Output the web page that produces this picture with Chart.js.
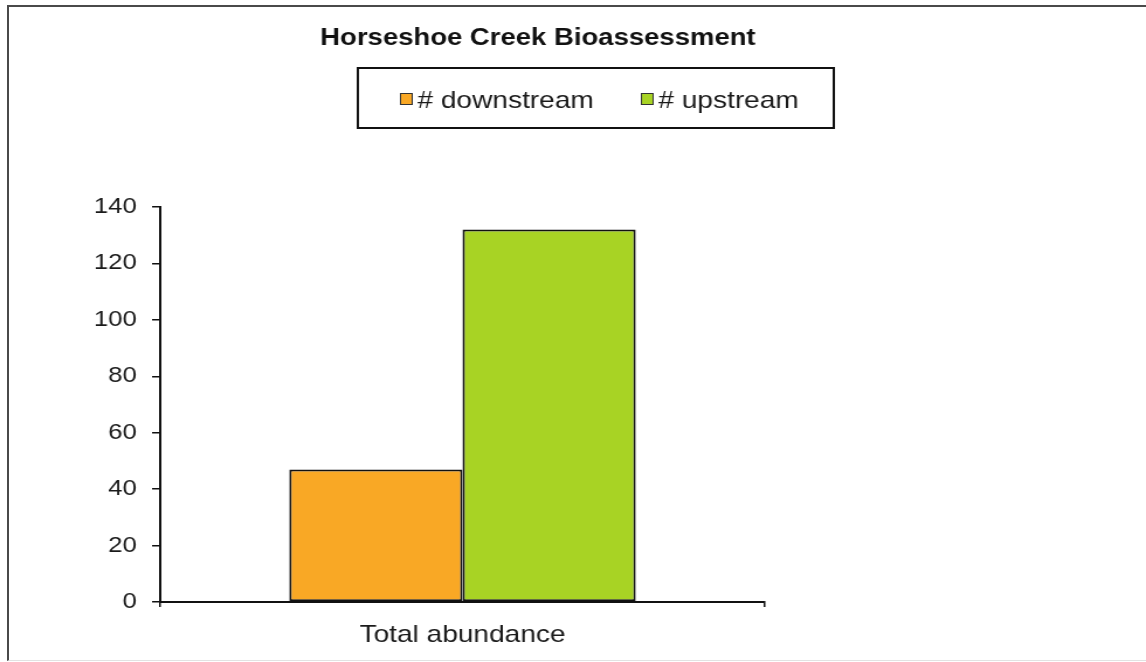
<!DOCTYPE html>
<html>
<head>
<meta charset="utf-8">
<title>Horseshoe Creek Bioassessment</title>
<script src="https://cdn.jsdelivr.net/npm/chart.js@4.4.1/dist/chart.umd.min.js"></script>
<style>
  html, body { margin: 0; padding: 0; background: #fff; }
  #page { position: relative; width: 1146px; height: 662px; overflow: hidden; background: #fff; }
  /* the original picture is stretched sideways, so the chart is drawn narrower and scaled */
  #stretch { position: absolute; left: 0; top: 0; width: 980px; height: 662px; transform: scaleX(1.1694); transform-origin: 0 0; }
  #frame { position: absolute; left: 7px; top: 5px; width: 1160px; height: 653px; border-left: 2px solid #4a4a4a; border-top: 2px solid #4a4a4a; border-bottom: 1px solid #e2e2e2; pointer-events: none; }
</style>
</head>
<body>
<div id="page">
  <div id="stretch"><canvas id="chart"></canvas></div>
  <div id="frame"></div>
</div>
<script>
// Data
const chartTitle = 'Horseshoe Creek Bioassessment';
const categories = ['Total abundance'];
const seriesNames = ['# downstream', '# upstream'];
const downstream = [47];
const upstream = [132];
const yMin = 0;
const yMax = 140;
const yStep = 20;

const colors = ['#f9a825', '#a8d324'];
const font = '"Liberation Sans", Arial, sans-serif';

// Title + boxed legend, drawn where the original has them
const headerPlugin = {
  id: 'header',
  afterDraw(chart) {
    const ctx = chart.ctx;
    ctx.save();
    ctx.fillStyle = '#111';
    ctx.font = 'bold 23.5px ' + font;
    ctx.textAlign = 'center';
    ctx.textBaseline = 'middle';
    ctx.fillText(chartTitle, 460, 39);

    // legend frame
    ctx.lineWidth = 2;
    ctx.strokeStyle = '#111';
    ctx.strokeRect(306, 68, 407, 60);

    const markerX = [342, 548];
    ctx.font = '24px ' + font;
    ctx.textAlign = 'left';
    chart.data.datasets.forEach((ds, i) => {
      ctx.fillStyle = ds.backgroundColor;
      ctx.fillRect(markerX[i], 93, 10, 11);
      ctx.lineWidth = 1;
      ctx.strokeStyle = '#333';
      ctx.strokeRect(markerX[i] + 0.5, 93.5, 10, 11);
      ctx.fillStyle = '#1a1a1a';
      ctx.fillText(ds.label, markerX[i] + 15, 101);
    });
    ctx.restore();
  }
};

new Chart(document.getElementById('chart'), {
  type: 'bar',
  data: {
    labels: categories,
    datasets: [
      {
        label: seriesNames[0],
        data: downstream,
        backgroundColor: colors[0],
        borderColor: '#111',
        borderWidth: 2,
        borderSkipped: false
      },
      {
        label: seriesNames[1],
        data: upstream,
        backgroundColor: colors[1],
        borderColor: '#111',
        borderWidth: 2,
        borderSkipped: false
      }
    ]
  },
  options: {
    responsive: true,
    maintainAspectRatio: false,
    animation: false,
    layout: { padding: { top: 207, left: 0, right: 326, bottom: 0 } },
    datasets: { bar: { categoryPercentage: 0.573, barPercentage: 1.0 } },
    plugins: {
      legend: { display: false },
      title: { display: false },
      tooltip: { enabled: false }
    },
    scales: {
      x: {
        afterFit: (s) => { s.height = 60; },
        grid: { drawOnChartArea: false, drawTicks: true, tickLength: 5, color: '#111', lineWidth: 1.5 },
        border: { color: '#111', width: 2 },
        ticks: { color: '#1a1a1a', padding: 14, font: { family: font, size: 24 } }
      },
      y: {
        min: yMin,
        max: yMax,
        afterFit: (s) => { s.width = 137; },
        grid: { drawOnChartArea: false, drawTicks: true, tickLength: 7, color: '#111', lineWidth: 1.5 },
        border: { color: '#111', width: 2 },
        ticks: { stepSize: yStep, color: '#1a1a1a', padding: 13, font: { family: font, size: 22 } }
      }
    }
  },
  plugins: [headerPlugin]
});
</script>
</body>
</html>
